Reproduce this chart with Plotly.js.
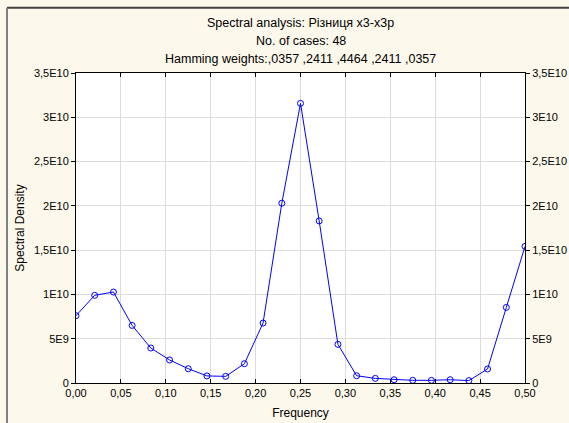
<!DOCTYPE html>
<html>
<head>
<meta charset="utf-8">
<script src="https://cdn.plot.ly/plotly-3.0.1.min.js"></script>
<style>html,body{margin:0;padding:0;background:#FDF8EC;}#chart{width:569px;height:423px;}</style>
</head>
<body>
<div id="chart"></div>
<script>
// Frequencies k/48, k = 0..24
const frequency = [0, 0.0208, 0.0417, 0.0625, 0.0833, 0.1042, 0.125, 0.1458, 0.1667, 0.1875, 0.2083, 0.2292, 0.25,
  0.2708, 0.2917, 0.3125, 0.3333, 0.3542, 0.375, 0.3958, 0.4167, 0.4375, 0.4583, 0.4792, 0.5];
const spectralDensity = [7.6e9, 9.9e9, 10.27e9, 6.5e9, 3.95e9, 2.6e9, 1.61e9, 0.8e9, 0.75e9, 2.18e9, 6.77e9, 20.3e9, 31.57e9,
  18.3e9, 4.36e9, 0.82e9, 0.52e9, 0.37e9, 0.3e9, 0.3e9, 0.37e9, 0.27e9, 1.58e9, 8.53e9, 15.42e9];
const xTickVals = [0, 0.05, 0.10, 0.15, 0.20, 0.25, 0.30, 0.35, 0.40, 0.45, 0.50];
const xTickText = ["0,00", "0,05", "0,10", "0,15", "0,20", "0,25", "0,30", "0,35", "0,40", "0,45", "0,50"];
const yTickVals = [0, 5e9, 10e9, 15e9, 20e9, 25e9, 30e9, 35e9];
const yTickText = ["0", "5E9", "1E10", "1,5E10", "2E10", "2,5E10", "3E10", "3,5E10"];
const titleLines = ["Spectral analysis: Різниця x3-x3p", "No. of cases: 48", "Hamming weights:,0357 ,2411 ,4464 ,2411 ,0357"];

const FAM = "Liberation Sans, Arial, sans-serif";
const font = {family: FAM, size: 11, color: "#000"};
const titleFont = {family: FAM, size: 12.5, color: "#000"};
const axisTitleFont = {family: FAM, size: 12, color: "#000"};

const trace = {
  x: frequency, y: spectralDensity, type: "scatter", mode: "lines+markers",
  line: {color: "#0000FF", width: 1},
  marker: {symbol: "circle-open", size: 6, color: "#0000FF", line: {width: 1, color: "#0000FF"}},
  hoverinfo: "none", showlegend: false
};
const ghost = {x: [0], y: [0], yaxis: "y2", type: "scatter", mode: "markers", marker: {opacity: 0}, showlegend: false, hoverinfo: "none"};

const W = 449, H = 310, BOTTOM = 383.3, LEFT = 76; // plot geometry in px
const pxX = p => (p - LEFT) / W, pxY = p => (BOTTOM - p) / H;

const layout = {
  width: 569, height: 423,
  margin: {l: 76, r: 44, t: 73, b: 40, pad: 0},
  paper_bgcolor: "#FDF8EC", plot_bgcolor: "#FFFFFF",
  font: font,
  xaxis: {
    range: [0, 0.5], tickvals: xTickVals, ticktext: xTickText,
    ticks: "inside", ticklen: 4, tickcolor: "#000", mirror: "ticks",
    showline: true, linecolor: "#000", linewidth: 1,
    showgrid: true, gridcolor: "#DCDCDC", gridwidth: 1, zeroline: false,
    tickfont: font,
    title: {text: "Frequency", font: axisTitleFont, standoff: 10}
  },
  yaxis: {
    range: [0, 35e9], tickvals: yTickVals, ticktext: yTickText,
    ticks: "outside", ticklen: 4, tickcolor: "#000",
    showline: true, linecolor: "#000", linewidth: 1,
    showgrid: true, gridcolor: "#DCDCDC", gridwidth: 1, zeroline: false,
    tickfont: font,
    title: {text: "Spectral Density", font: axisTitleFont, standoff: 6}
  },
  yaxis2: {
    overlaying: "y", side: "right", range: [0, 35e9], tickvals: yTickVals, ticktext: yTickText,
    ticks: "outside", ticklen: 4, tickcolor: "#000",
    showline: true, linecolor: "#000", linewidth: 1, showgrid: false, zeroline: false,
    tickfont: font
  },
  annotations: titleLines.map((t, i) => ({
    text: t, xref: "paper", yref: "paper", x: 0.5, y: pxY(23 + 18 * i), showarrow: false,
    xanchor: "center", yanchor: "middle", font: titleFont
  })),
  shapes: [
    {type: "line", xref: "paper", yref: "paper", x0: pxX(7), x1: pxX(572), y0: pxY(8), y1: pxY(8), line: {color: "#404040", width: 2}},
    {type: "line", xref: "paper", yref: "paper", x0: pxX(7), x1: pxX(7), y0: pxY(8), y1: pxY(430), line: {color: "#808080", width: 2}}
  ]
};
Plotly.newPlot("chart", [trace, ghost], layout, {displayModeBar: false, staticPlot: true});
</script>
</body>
</html>
